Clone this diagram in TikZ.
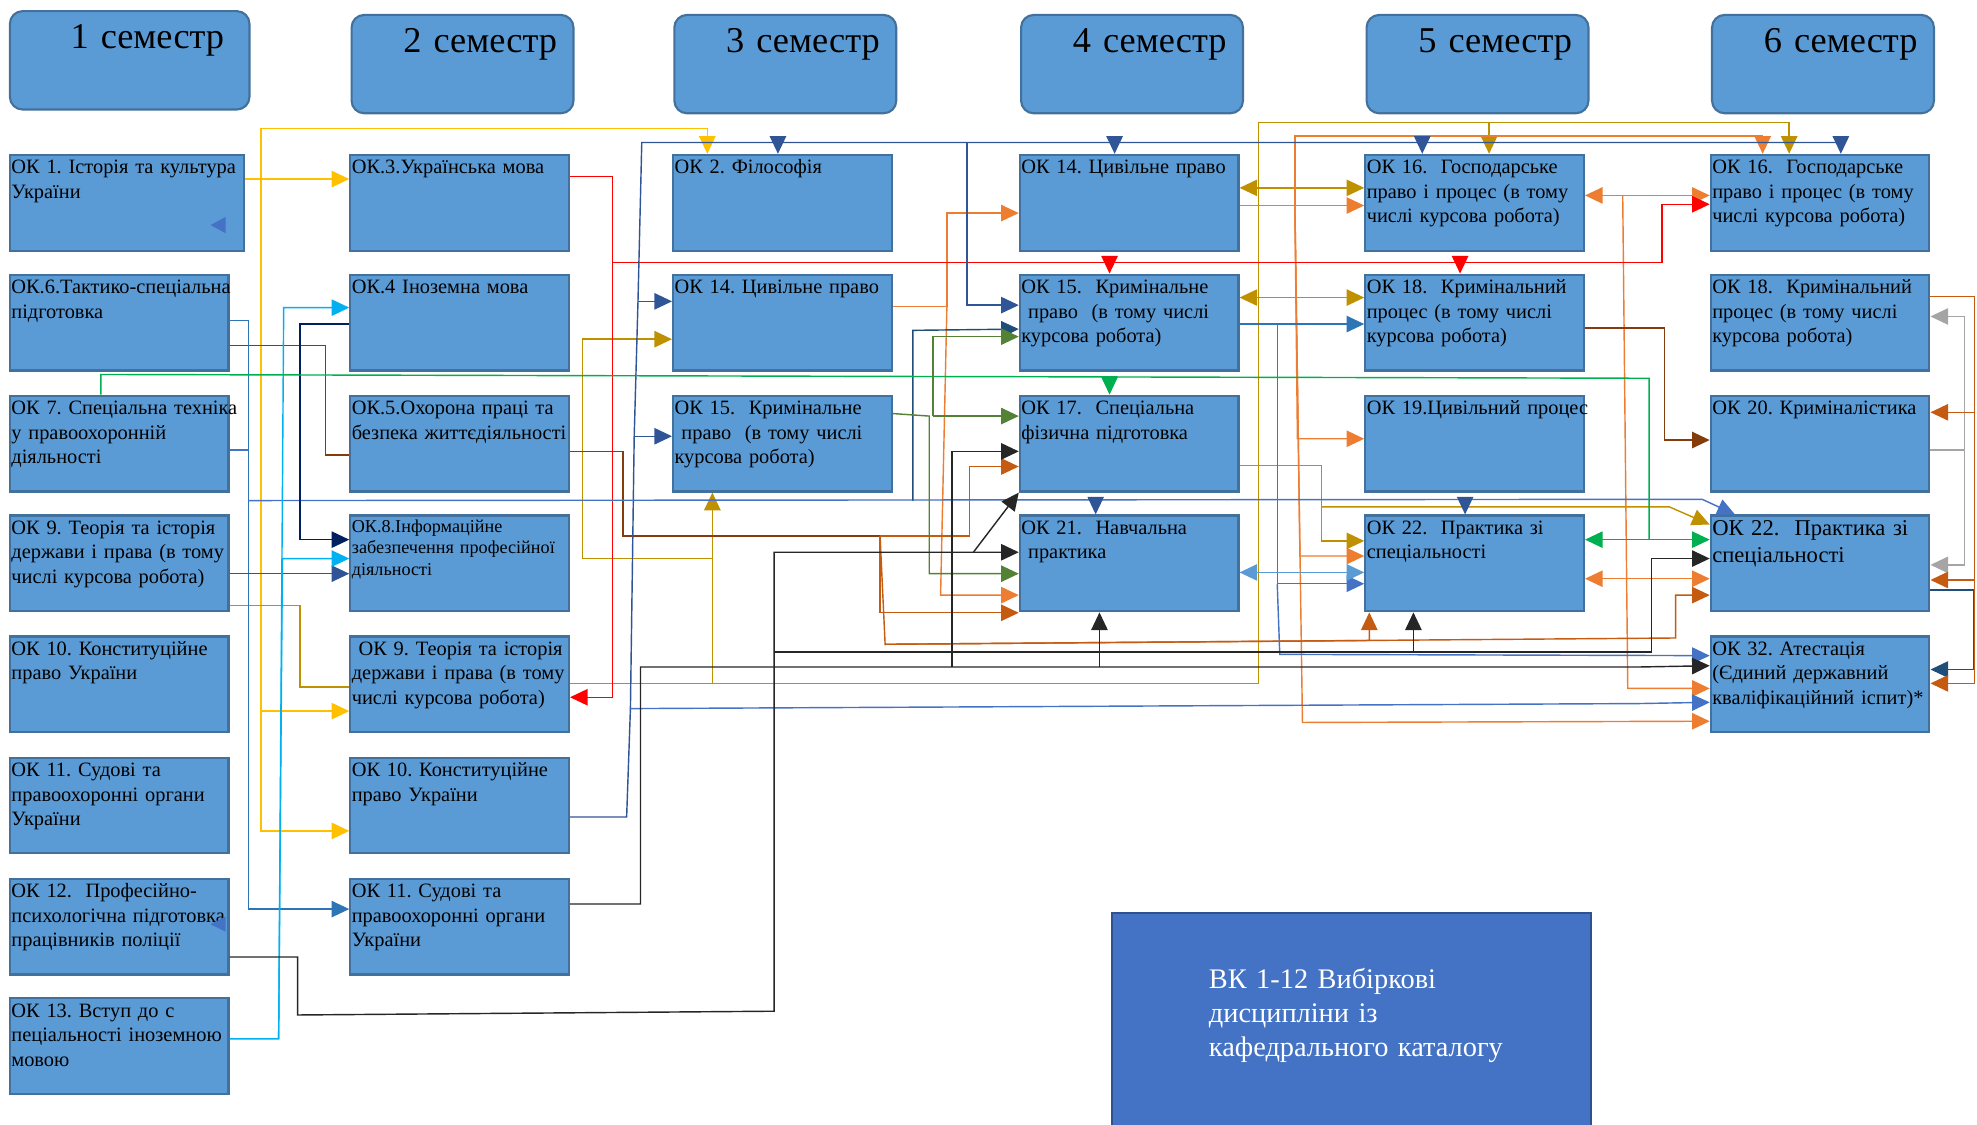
\documentclass[tikz,border=0pt]{standalone}
\usepackage{fontspec}
\setmainfont{Liberation Serif}
\usetikzlibrary{arrows.meta}
\exhyphenpenalty=10000
\hyphenpenalty=10000
\definecolor{boxfill}{HTML}{5B9BD5}
\definecolor{boxedge}{HTML}{41719C}
\definecolor{vkfill}{HTML}{4472C4}
\definecolor{vkedge}{HTML}{2F528F}
\definecolor{cyel}{HTML}{FFC000}
\definecolor{cgold}{HTML}{BF9000}
\definecolor{corange}{HTML}{ED7D31}
\definecolor{crust}{HTML}{C55A11}
\definecolor{cbrown}{HTML}{843C0C}
\definecolor{cred}{HTML}{FF0000}
\definecolor{cgreen}{HTML}{00B050}
\definecolor{colive}{HTML}{548235}
\definecolor{cblue}{HTML}{4472C4}
\definecolor{csteel}{HTML}{2F5597}
\definecolor{cmid}{HTML}{2E75B6}
\definecolor{clight}{HTML}{5B9BD5}
\definecolor{ccyan}{HTML}{00B0F0}
\definecolor{cnavy}{HTML}{002060}
\definecolor{cdeep}{HTML}{1F4E79}
\definecolor{cblack}{HTML}{262626}
\definecolor{cgray}{HTML}{A5A5A5}

\begin{document}
\begin{tikzpicture}
	[x=0.5mm,y=-0.5mm,>={Triangle[length=7mm,width=6.5mm]},
	term/.style={anchor=north west, draw=boxedge, line width=2.4pt, fill=boxfill, rounded corners=5mm, inner sep=0pt, text width=88mm, text height=15mm, text depth=24mm, align=center, font=\fontsize{41}{48}\selectfont},
	course/.style={anchor=north west, draw=boxedge, line width=2.4pt, fill=boxfill, inner xsep=0.6mm, inner ysep=0pt, text width=85.5mm, text height=7.5mm, text depth=30.5mm, align=left, font=\fontsize{23}{27.7}\selectfont},
	smallcourse/.style={course, font=\fontsize{20.5}{24}\selectfont, text height=6.8mm, text depth=31.2mm},
	bigcourse/.style={course, font=\fontsize{25.5}{30}\selectfont, text height=8mm, text depth=30mm},
	elective/.style={anchor=north west, draw=vkedge, line width=2.4pt, fill=vkfill, inner sep=0pt, text width=190mm, text height=30mm, text depth=58mm, align=left, text=white, font=\fontsize{32}{38.5}\selectfont},
	link/.style={line width=1.6pt}]

\useasboundingbox (0,0) rectangle (1568,892);

\node[term, text width=95mm] (h1) at (7,8) {\hspace*{14mm}1 семестр};
\node[term] (h2) at (278,11) {\hspace*{14mm}2 семестр};
\node[term] (h3) at (534,11) {\hspace*{14mm}3 семестр};
\node[term] (h4) at (809,11) {\hspace*{14mm}4 семестр};
\node[term] (h5) at (1083,11) {\hspace*{14mm}5 семестр};
\node[term] (h6) at (1357,11) {\hspace*{14mm}6 семестр};

\node[course, text width=91.8mm] (ok1) at (7,122) {ОК~1.~Історія~та~культура\\України};
\node[course] (ok6) at (7,217) {ОК.6.Тактико-спеціальна\\підготовка};
\node[course] (ok7) at (7,313) {ОК~7.~Спеціальна~техніка\\у~правоохоронній\\діяльності};
\node[course] (ok9) at (7,408) {ОК~9.~Теорія~та~історія\\держави~і~права~(в~тому\\числі~курсова~робота)};
\node[course] (ok10) at (7,504) {ОК~10.~Конституційне\\право~України};
\node[course] (ok11) at (7,600) {ОК~11.~Судові~та\\правоохоронні~органи\\України};
\node[course] (ok12) at (7,696) {ОК~12.~~Професійно-\\психологічна~підготовка\\працівників~поліції};
\node[course] (ok13) at (7,791) {ОК~13.~Вступ~до~с\\пеціальності~іноземною\\мовою};

\node[course] (ok3) at (277,122) {ОК.3.Українська~мова};
\node[course] (ok4) at (277,217) {ОК.4~Іноземна~мова};
\node[course] (ok5) at (277,313) {ОК.5.Охорона~праці~та\\безпека~життєдіяльності};
\node[smallcourse] (ok8) at (277,408) {ОК.8.Інформаційне\\забезпечення~професійної\\діяльності};
\node[course] (ok9b) at (277,504) {~ОК~9.~Теорія~та~історія\\держави~і~права~(в~тому\\числі~курсова~робота)};
\node[course] (ok10b) at (277,600) {ОК~10.~Конституційне\\право~України};
\node[course] (ok11b) at (277,696) {ОК~11.~Судові~та\\правоохоронні~органи\\України};

\node[course] (ok2) at (533,122) {ОК~2.~Філософія};
\node[course] (ok14) at (533,217) {ОК~14.~Цивільне~право};
\node[course] (ok15) at (533,313) {ОК~15.~~Кримінальне\\~право~~(в~тому~числі\\курсова~робота)};

\node[course] (ok14b) at (808,122) {ОК~14.~Цивільне~право};
\node[course] (ok15b) at (808,217) {ОК~15.~~Кримінальне\\~право~~(в~тому~числі\\курсова~робота)};
\node[course] (ok17) at (808,313) {ОК~17.~~Спеціальна\\фізична~підготовка};
\node[course] (ok21) at (808,408) {ОК~21.~~Навчальна\\~практика};

\node[course] (ok16) at (1082,122) {ОК~16.~~Господарське\\право~і~процес~(в~тому\\числі~курсова~робота)};
\node[course] (ok18) at (1082,217) {ОК~18.~~Кримінальний\\процес~(в~тому~числі\\курсова~робота)};
\node[course] (ok19) at (1082,313) {ОК~19.Цивільний~процес};
\node[course] (ok22) at (1082,408) {ОК~22.~~Практика~зі\\спеціальності};

\node[course] (ok16b) at (1356,122) {ОК~16.~~Господарське\\право~і~процес~(в~тому\\числі~курсова~робота)};
\node[course] (ok18b) at (1356,217) {ОК~18.~~Кримінальний\\процес~(в~тому~числі\\курсова~робота)};
\node[course] (ok20) at (1356,313) {ОК~20.~Криміналістика};
\node[bigcourse] (ok22b) at (1356,408) {ОК~22.~~Практика~зі\\спеціальності};
\node[course] (ok32) at (1356,504) {ОК~32.~Атестація\\(Єдиний~державний\\кваліфікаційний~іспит)*};

\node[elective] (vk) at (881,723) {\hspace*{38.5mm}ВК~1-12~Вибіркові\\\hspace*{38.5mm}дисципліни~із\\\hspace*{38.5mm}кафедрального~каталогу};

\fill[cblue] (179,172) -- (179,185) -- (167,178.5) -- cycle;
\fill[cblue] (179,727) -- (179,739) -- (167,733) -- cycle;

\coordinate (ya) at (207,142);
\draw[link,cyel,->] (ok1.east |- ya) -- (ok3.west |- ya);
\draw[link,cyel,->] (ya) -- (207,102) -- (561,102) -- (ok2.north -| 561,0);
\draw[link,cyel,->] (ya) -- (207,564) -- (ok9b.west |- 0,564);
\draw[link,cyel,->] (ya) -- (207,659) -- (ok10b.west |- 0,659);

\coordinate (ga) at (565,542);
\coordinate (gb) at (998,97);
\coordinate (gc) at (1048,402);
\draw[link,cgold] (ok9.east |- 0,480) -- (238,480) -- (238,545) -- (ok9b.west |- 0,545);
\draw[link,cgold] (ok9b.east |- ga) -- (998,542) -- (gb);
\draw[link,cgold,->] (gb) -- (1419,97) -- (ok16b.north -| 1419,0);
\draw[link,cgold,->] (gb) -- (1181,97) -- (ok16.north -| 1181,0);
\draw[link,cgold,->] (ga) -- (ok15.south -| ga);
\draw[link,cgold,->] (ga) -- (565,443) -- (462,443) -- (462,269) -- (ok14.west |- 0,269);
\draw[link,cgold,<->] (ok14b.east |- 0,149) -- (ok16.west |- 0,149);
\draw[link,cgold,<->] (ok15b.east |- 0,236) -- (ok18.west |- 0,236);
\draw[link,cgold,->] (ok17.east |- 0,369) -- (1048,369) -- (1048,429) -- (ok22.west |- 0,429);
\draw[link,cgold,->] (gc) -- (1324,402) -- (ok22b.west |- 0,416);

\coordinate (oa) at (751,243);
\coordinate (ob) at (1027,163);
\coordinate (oc) at (1287,155);
\draw[link,corange,->] (ok14.east |- oa) -- (oa) -- (751,169) -- (ok14b.west |- 0,169);
\draw[link,corange,->] (oa) -- (746,472) -- (ok21.west |- 0,472);
\draw[link,corange,->] (ok14b.east |- ob) -- (ok16.west |- ob);
\draw[link,corange,->] (ob) -- (1027,108) -- (1398,108) -- (ok16b.north -| 1398,0);
\draw[link,corange,->] (ob) -- (1029,348) -- (ok19.west |- 0,348);
\draw[link,corange,->] (ob) -- (1031,441) -- (ok22.west |- 0,441);
\draw[link,corange,->] (ob) -- (1033,573) -- (ok32.west |- 0,572);
\draw[link,corange,<->] (ok16.east |- oc) -- (ok16b.west |- oc);
\draw[link,corange,<->] (ok22.east |- 0,459) -- (ok22b.west |- 0,459);
\draw[link,corange,->] (oc) -- (1291,546) -- (ok32.west |- 0,546);

\coordinate (ra) at (698,425);
\coordinate (rb) at (702,511);
\draw[link,cbrown] (ok5.east |- 0,358) -- (494,358) -- (494,425) -- (ra);
\draw[link,crust,->] (ra) -- (769,425) -- (769,370) -- (ok17.west |- 0,370);
\draw[link,crust,->] (ra) -- (698,486) -- (ok21.west |- 0,486);
\draw[link,crust,->] (ra) -- (rb) -- (1329,506) -- (1329,472) -- (ok22b.west |- 0,472);
\draw[link,crust,->] (rb) -- (1086,508) -- (ok22.south -| 1086,0);

\draw[link,cbrown] (ok6.east |- 0,274) -- (258,274) -- (258,361) -- (ok5.west |- 0,361);
\draw[link,cbrown,->] (ok18.east |- 0,260) -- (1320,260) -- (1320,349) -- (ok20.west |- 0,349);

\coordinate (da) at (486,140);
\coordinate (db) at (486,208);
\coordinate (dc) at (880,208);
\coordinate (dd) at (1158,208);
\draw[link,cred,->] (ok3.east |- da) -- (da) -- (486,553) -- (ok9b.east |- 0,553);
\draw[link,cred,->] (db) -- (1318,208) -- (1318,162) -- (ok16b.west |- 0,162);
\draw[link,cred,->] (dc) -- (ok15b.north -| dc);
\draw[link,cred,->] (dd) -- (ok18.north -| dd);

\coordinate (sa) at (509,113);
\coordinate (sb) at (503,346);
\coordinate (sc) at (506,239);
\coordinate (sd) at (500,562);
\coordinate (s2) at (617,113);
\coordinate (s14) at (884,113);
\coordinate (s16) at (1128,113);
\coordinate (s16b) at (1460,113);
\coordinate (s15) at (767,113);
\draw[link,csteel] (ok10b.east |- 0,648) -- (497,648) -- (sd) -- (sb) -- (sc) -- (sa) -- (s16b);
\draw[link,csteel,->] (sb) -- (ok15.west |- sb);
\draw[link,csteel,->] (sc) -- (ok14.west |- sc);
\draw[link,csteel,->] (s2) -- (ok2.north -| s2);
\draw[link,csteel,->] (s14) -- (ok14b.north -| s14);
\draw[link,csteel,->] (s16) -- (ok16.north -| s16);
\draw[link,csteel,->] (s16b) -- (ok16b.north -| s16b);
\draw[link,csteel,->] (s15) -- (767,242) -- (ok15b.west |- 0,242);
\draw[link,cblue,->] (sd) -- (1300,558) -- (ok32.west |- 0,557);

\coordinate (ba) at (197,254);
\coordinate (bb) at (197,397);
\coordinate (bc) at (869,397);
\coordinate (bd) at (1162,397);
\coordinate (be) at (724,397);
\draw[link,cmid,->] (ok6.east |- ba) -- (ba) -- (197,721) -- (ok11b.west |- 0,721);
\draw[link,cblue] (ok7.east |- 0,357) -- (197,357);
\draw[link,cblue,->] (bb) -- (1350,396) -- (ok22b.north -| 1376,0);
\draw[link,csteel,->] (bc) -- (ok21.north -| bc);
\draw[link,csteel,->] (bd) -- (ok22.north -| bd);
\draw[link,cdeep,->] (be) -- (724,262) -- (ok15b.west |- 0,261);
\draw[link,csteel,->] (ok9.east |- 0,455) -- (ok8.west |- 0,455);

\coordinate (ma) at (1013,257);
\coordinate (mb) at (1013,463);
\draw[link,cmid,->] (ok15b.east |- ma) -- (ok18.west |- ma);
\draw[link,cblue,->] (ma) -- (mb) -- (ok22.west |- mb);
\draw[link,cblue,->] (mb) -- (1015,519) -- (ok32.west |- 0,520);
\draw[link,clight,<->] (ok21.east |- 0,454) -- (ok22.west |- 0,454);

\coordinate (ca) at (221,824);
\draw[link,ccyan,->] (ok13.east |- ca) -- (ca) -- (225,244) -- (ok4.west |- 0,244);
\draw[link,ccyan,->] (ca) -- (224,443) -- (ok8.west |- 0,443);
\draw[link,cnavy,->] (ok4.west |- 0,257) -- (238,257) -- (238,428) -- (ok8.west |- 0,428);

\coordinate (na) at (80,297);
\coordinate (nb) at (1308,300);
\coordinate (nc) at (1308,428);
\draw[link,cgreen] (ok7.north -| na) -- (na) -- (nb) -- (nc);
\draw[link,cgreen,->] (nc) -- (ok22b.west |- nc);
\draw[link,cgreen,->] (nc) -- (ok22.east |- nc);
\draw[link,cgreen,->] (880,298) -- (ok17.north -| 880,0);

\coordinate (la) at (740,330);
\draw[link,colive,->] (ok15.east |- 0,328) -- (737,330) -- (737,455) -- (ok21.west |- 0,455);
\draw[link,colive,->] (la) -- (ok17.west |- la);
\draw[link,colive,->] (la) -- (740,267) -- (ok15b.west |- 0,267);

\coordinate (ka) at (614,438);
\coordinate (kb) at (614,517);
\coordinate (kc) at (772,438);
\coordinate (kd) at (1121,517);
\draw[link,cblack,->] (ok12.east |- 0,759) -- (236,759) -- (236,805) -- (614,802) -- (ka) -- (ok21.west |- ka);
\draw[link,cblack,->] (kc) -- (ok17.south west);
\draw[link,cblack,->] (kb) -- (1310,517) -- (1310,443) -- (ok22b.west |- 0,443);
\draw[link,cblack,->] (kd) -- (ok22.south -| kd);

\coordinate (ke) at (755,529);
\coordinate (kf) at (872,529);
\draw[link,cblack,->] (ok11b.east |- 0,717) -- (508,717) -- (508,529) -- (1300,529) -- (ok32.west |- 0,528);
\draw[link,cblack,->] (ke) -- (755,358) -- (ok17.west |- 0,358);
\draw[link,cblack,->] (kf) -- (ok21.south -| kf);

\draw[link,cdeep,->] (ok22b.east |- 0,468) -- (1565,468) -- (1565,531) -- (ok32.east |- 0,531);

\coordinate (xa) at (1558,357);
\draw[link,cgray,->] (ok20.east |- xa) -- (xa) -- (1558,251) -- (ok18b.east |- 0,251);
\draw[link,cgray,->] (xa) -- (1558,448) -- (ok22b.east |- 0,448);

\coordinate (qa) at (1566,327);
\coordinate (qb) at (1566,460);
\draw[link,crust,->] (ok18b.east |- 0,235) -- (1566,235) -- (qa) -- (ok20.east |- qa);
\draw[link,crust,->] (qa) -- (qb) -- (ok22b.east |- qb);
\draw[link,crust,->] (qb) -- (1566,542) -- (ok32.east |- 0,542);

\end{tikzpicture}
\end{document}
